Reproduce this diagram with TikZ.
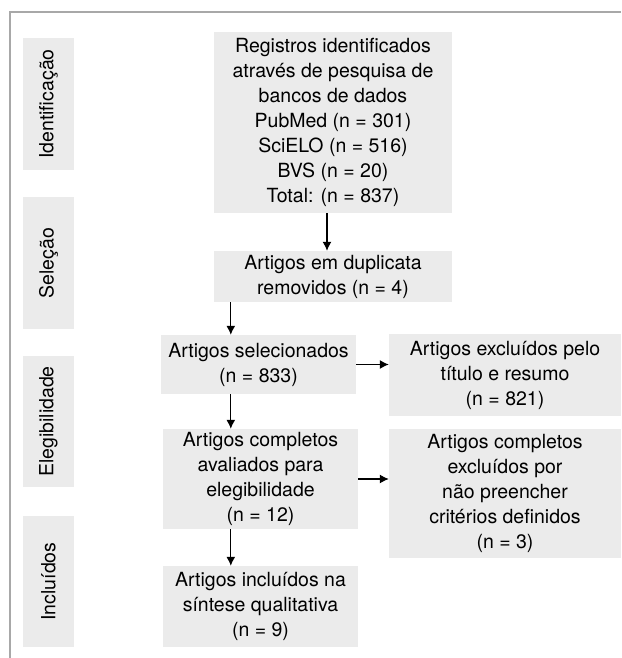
\documentclass[tikz,border=0pt]{standalone}
\usepackage{fontspec}
\setmainfont{TeX Gyre Heros}
\usetikzlibrary{arrows.meta}
\definecolor{boxgray}{HTML}{EBEBEB}
\definecolor{framegray}{HTML}{A8A8A8}
\tikzset{
  box/.style={fill=boxgray, draw=none, align=center, inner sep=0pt,
    font=\fontsize{19.5pt}{25pt}\selectfont, text=black},
  sidebox/.style={fill=boxgray, draw=none, inner sep=0pt,
    minimum width=51pt, font=\fontsize{19.5pt}{25pt}\selectfont},
  arr/.style={line width=1.2pt, -{Latex[length=9pt,width=9pt]}},
  frame/.style={draw=framegray, line width=1.5pt}
}
\begin{document}
\begin{tikzpicture}[x=1pt,y=-1pt]
\useasboundingbox (0,0) rectangle (621,658);
\draw[frame] (10,658) -- (10,12) -- (621,12);
% side labels
\node[sidebox, minimum height=132pt] (s1) at (48.5,104) {\rotatebox{90}{Identificação}};
\node[sidebox, minimum height=132pt] (s2) at (48.5,263) {\rotatebox{90}{Seleção}};
\node[sidebox, minimum height=131pt] (s3) at (48.5,421.5) {\rotatebox{90}{Elegibilidade}};
\node[sidebox, minimum height=131pt] (s4) at (48.5,581.5) {\rotatebox{90}{Incluídos}};
% main boxes
\node[box, minimum width=238pt, minimum height=181pt] (b1) at (333,122.5)
  {Registros identificados\\através de pesquisa de\\bancos de dados\\PubMed (n = 301)\\SciELO (n = 516)\\BVS (n = 20)\\Total: (n = 837)};
\node[box, minimum width=238pt, minimum height=51pt] (b2) at (333,276.5)
  {Artigos em duplicata\\removidos (n = 4)};
\node[box, minimum width=195pt, minimum height=59pt] (b3) at (258.5,364.5)
  {Artigos selecionados\\(n = 833)};
\node[box, minimum width=195pt, minimum height=100pt] (b4) at (260.5,479)
  {Artigos completos\\avaliados para\\elegibilidade\\(n = 12)};
\node[box, minimum width=195pt, minimum height=81pt] (b5) at (260.5,606.5)
  {Artigos incluídos na\\síntese qualitativa\\(n = 9)};
\node[box, minimum width=232pt, minimum height=82pt] (b6) at (505,375)
  {Artigos excluídos pelo\\título e resumo\\(n = 821)};
\node[box, minimum width=232pt, minimum height=129pt] (b7) at (505,493.5)
  {Artigos completos\\excluídos por\\não preencher\\critérios definidos\\(n = 3)};
% arrows
\draw[arr] ([xshift=-6pt]b1.south) -- ([xshift=-6pt]b2.north);
\draw[arr] ([xshift=17pt]b2.south west) -- ([xshift=17pt]b2.south west |- b3.north);
\draw[arr] ([xshift=70pt]b3.south west) -- ([xshift=70pt]b3.south west |- b4.north);
\draw[arr] ([xshift=68pt]b4.south west) -- ([xshift=68pt]b4.south west |- b5.north);
\draw[arr] (b3.east) -- (b3.east -| b6.west);
\draw[arr] (b4.east) -- (b4.east -| b7.west);
\end{tikzpicture}
\end{document}
